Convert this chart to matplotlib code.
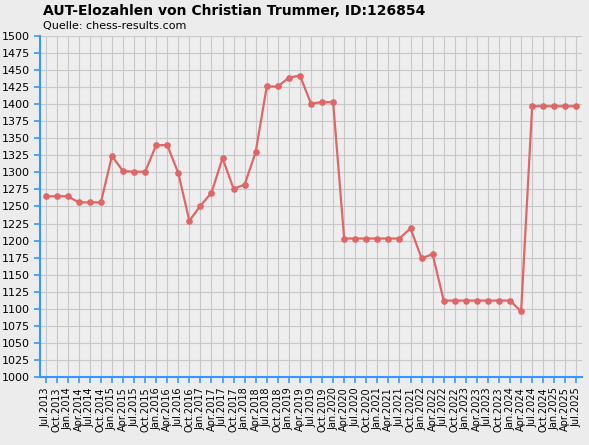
import matplotlib
matplotlib.use("Agg")
import matplotlib.pyplot as plt

labels = []
months = ["Jan", "Apr", "Jul", "Oct"]
for y in range(2013, 2026):
    for m in months:
        labels.append(f"{m}.{y}")
labels = labels[labels.index("Jul.2013"):labels.index("Jul.2025") + 1]

values = [1265, 1265, 1265, 1256, 1256, 1256, 1324, 1302, 1301, 1301,
          1340, 1340, 1299, 1229, 1251, 1270, 1321, 1276, 1282, 1330,
          1426, 1426, 1439, 1442, 1401, 1403, 1403, 1203, 1203, 1203,
          1203, 1203, 1203, 1218, 1174, 1180, 1112, 1112, 1112, 1112,
          1112, 1112, 1112, 1096, 1397, 1397, 1397, 1397, 1397]

fig = plt.figure(figsize=(5.89, 4.45), dpi=100, facecolor="#ececec")
ax = fig.add_axes([0.068, 0.153, 0.92, 0.766])
ax.set_facecolor("#eeeeee")
x = list(range(len(values)))
ax.plot(x, values, color="#e06666", lw=1.6, marker="o", ms=3.8)
ax.set_xlim(-0.5, len(values) - 0.5)
ax.set_ylim(1000, 1500)
ax.set_yticks(range(1000, 1501, 25))
ax.set_yticklabels([str(v) for v in range(1000, 1501, 25)], fontsize=8)
ax.set_xticks(x)
ax.set_xticklabels(labels, rotation=90, fontsize=7)
ax.grid(True, color="#c8c8c8", lw=0.8)
for s in ["top", "right"]:
    ax.spines[s].set_visible(False)
ax.spines["left"].set_color("#3399ff")
ax.spines["bottom"].set_color("#3399ff")
ax.spines["left"].set_linewidth(1.5)
ax.spines["bottom"].set_linewidth(1.5)
ax.tick_params(colors="#3399ff", labelcolor="black", length=4, width=1.2)
fig.text(0.073, 0.975, "AUT-Elozahlen von Christian Trummer, ID:126854",
         fontsize=10, fontweight="bold", va="center")
fig.text(0.073, 0.942, "Quelle: chess-results.com", fontsize=8, va="center")
fig.savefig("out.png", dpi=100, facecolor=fig.get_facecolor())
